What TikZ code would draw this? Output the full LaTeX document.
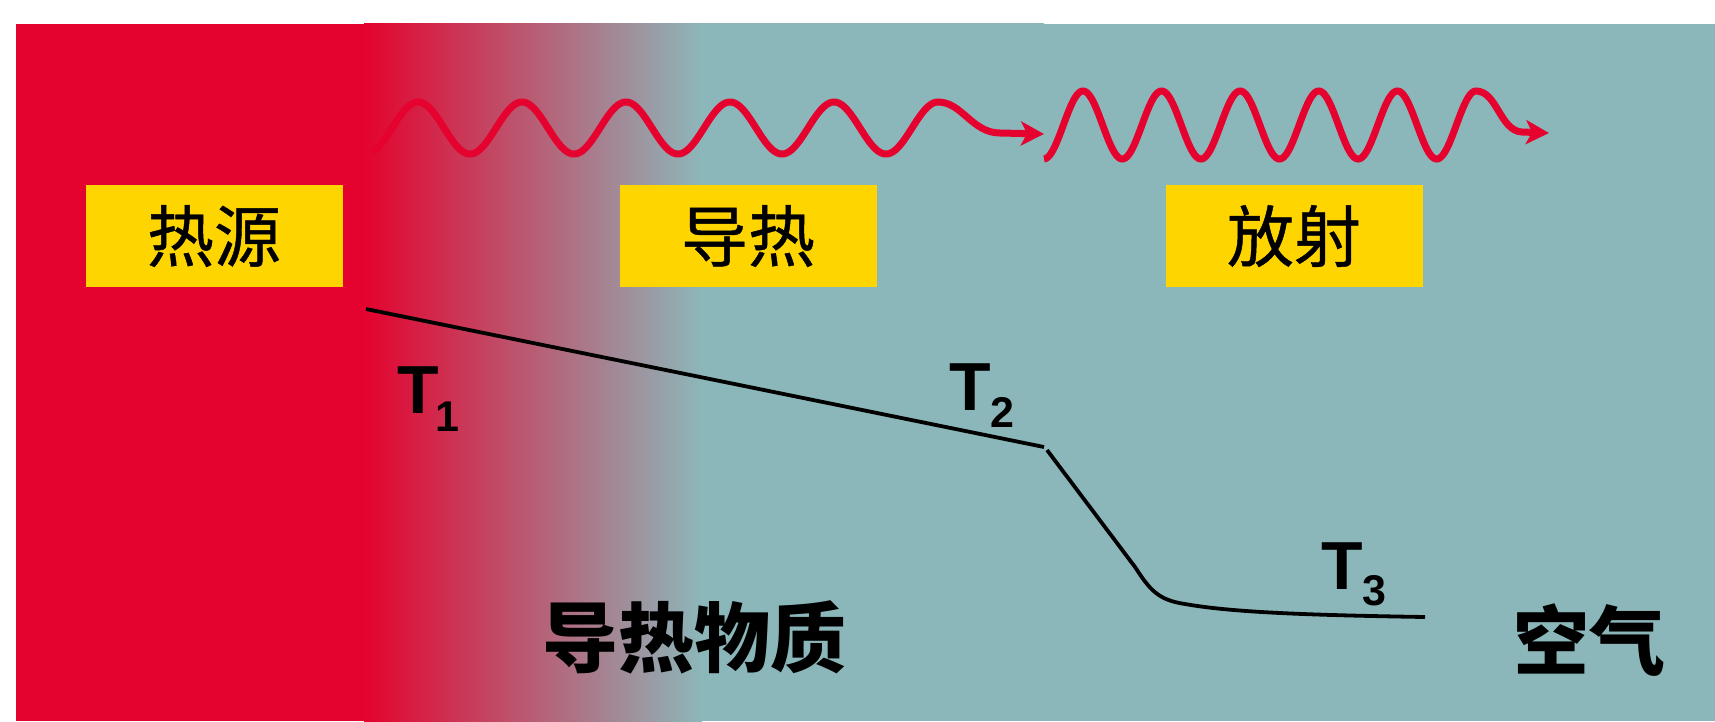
\documentclass[tikz,border=0pt]{standalone}
\usepackage{fontspec}
\newfontfamily\cjk{Noto Sans CJK SC}
\newfontfamily\cjkbox[FakeBold=0.7]{Noto Sans CJK SC}
\newfontfamily\latinfont{Liberation Sans}
\usetikzlibrary{arrows.meta}
\definecolor{hotred}{HTML}{E4032E}
\definecolor{airteal}{HTML}{8CB7BA}
\definecolor{labelyellow}{HTML}{FFD500}
\definecolor{wavered}{HTML}{E5022E}
\tikzset{
  labelbox/.style={fill=labelyellow, minimum width=257pt, minimum height=102pt, inner sep=0pt,
    font=\cjkbox\fontsize{67}{67}\selectfont, text=black},
  bigword/.style={inner sep=0pt, font=\cjk\bfseries\fontsize{76}{76}\selectfont, text=black},
  tlabel/.style={inner sep=0pt, anchor=base west, font=\latinfont\bfseries\fontsize{68}{68}\selectfont, text=black},
  wave/.style={draw=wavered, line width=7pt},
  wavetip/.style={-{Stealth[length=23pt, width=24pt, inset=6pt]}},
  templine/.style={draw=black, line width=3.8pt}
}
\newcommand{\subdigit}[2]{\raisebox{-#2pt}{\fontsize{43}{43}\selectfont #1}}
\begin{document}
\begin{tikzpicture}[x=1pt, y=-1pt]
\useasboundingbox (0,0) rectangle (1715,721);
\fill[white] (0,0) rectangle (1715,721);
% backgrounds
\fill[airteal] (700,23) rectangle (1044,721);
\fill[airteal] (1043,24) rectangle (1715,721);
\shade[left color=hotred, right color=airteal] (364,23) rectangle (702,721);
\fill[hotred] (16,24) rectangle (365,721);
% label boxes
\node[labelbox] (src) at (214,236) {热源};
\node[labelbox] (cond) at (748,236) {导热};
\node[labelbox] (rad) at (1294,236) {放射};
% waves
\draw[wave, wavetip] plot[domain=372:938, samples=320, smooth] (\x, {128-26*cos((\x-418)*(360/104))})
  .. controls (962,102) and (972,133) .. (1000,133) -- (1044,134);
\draw[wave, wavetip] plot[domain=1044:1476, samples=320, smooth] (\x, {125-34*cos((\x-1083)*(360/78.6))})
  .. controls (1497,91) and (1500,131) .. (1522,132) -- (1549,133);
% temperature line
\coordinate (a1) at (366,309);
\coordinate (a2) at (1044,447);
\coordinate (b1) at (1047,450);
\coordinate (b2) at (1135,567);
\coordinate (b3) at (1185,604);
\coordinate (b4) at (1425,617);
\draw[templine] (a1) -- (a2);
\draw[templine] (b1) -- (b2) .. controls (1150,590) and (1158,600) .. (b3)
  .. controls (1230,612) and (1300,615) .. (b4);
% T labels
\node[tlabel] (t1) at (397,413) {T\kern-3pt\subdigit{1}{18}};
\node[tlabel] (t2) at (949,410) {T\subdigit{2}{17}};
\node[tlabel] (t3) at (1321,589) {T\subdigit{3}{16}};
% big words
\node[bigword] (mat) at (694,637) {导热物质};
\node[bigword] (air) at (1589,640) {空气};
\end{tikzpicture}
\end{document}
